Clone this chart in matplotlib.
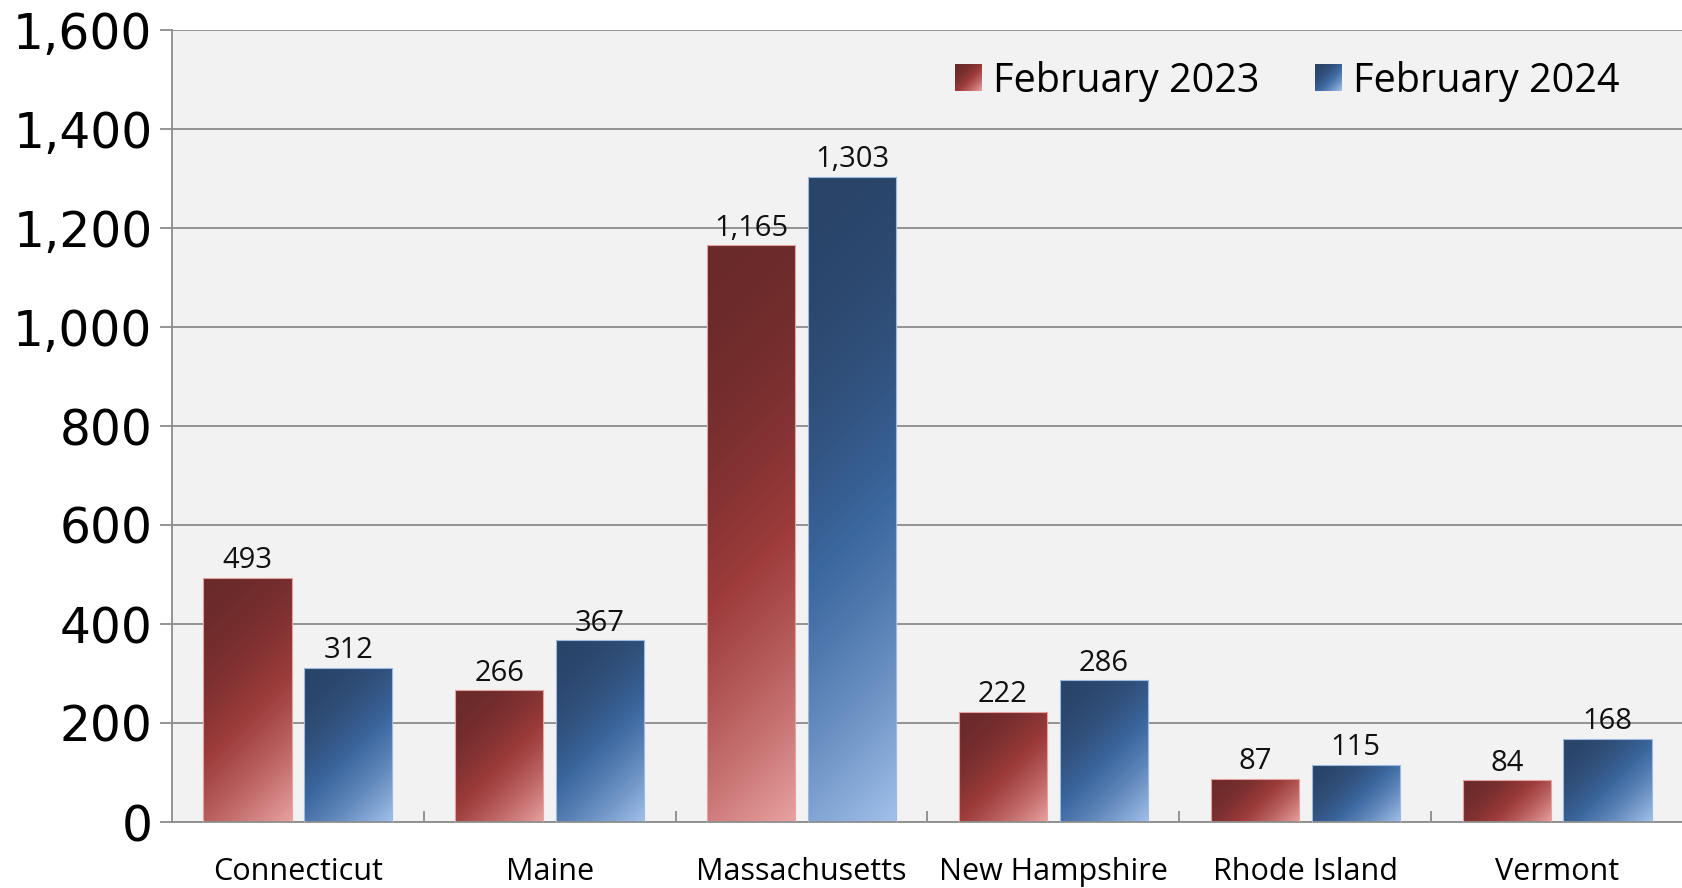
import numpy as np
import matplotlib
matplotlib.use('Agg')
import matplotlib.pyplot as plt
from matplotlib.patches import Patch
from matplotlib.colors import to_rgb
from matplotlib.legend_handler import HandlerBase
from matplotlib.image import BboxImage
from matplotlib.transforms import Bbox, TransformedBbox

# data
states = ['Connecticut', 'Maine', 'Massachusetts', 'New Hampshire', 'Rhode Island', 'Vermont']
feb_2023 = [493, 266, 1165, 222, 87, 84]
feb_2024 = [312, 367, 1303, 286, 115, 168]
series_names = ['February 2023', 'February 2024']
y_ticks = [0, 200, 400, 600, 800, 1000, 1200, 1400, 1600]

# gradient stops: dark top-left, mid, light bottom-right corner
red_stops = ['#6b2a2a', '#9e3b3b', '#e9a3a1']
blue_stops = ['#2a4468', '#3b679f', '#a3c2ec']

grid_col = '#8c8c8c'
text_font = ['Open Sans', 'DejaVu Sans']

fig = plt.figure(figsize=(16.83, 8.88), dpi=100)
fig.patch.set_facecolor('white')
ax = fig.add_axes([172 / 1683, 66 / 888, 1511 / 1683, 792 / 888])
ax.set_facecolor('#f2f2f2')

x = np.arange(len(states))
w = 0.35
off = 0.2
bars1 = ax.bar(x - off, feb_2023, w, facecolor='none', edgecolor='#e6a2a0', linewidth=0.8, zorder=3)
bars2 = ax.bar(x + off, feb_2024, w, facecolor='none', edgecolor='#9cbbe3', linewidth=0.8, zorder=3)

ax.set_xlim(-0.5, len(states) - 0.5)
ax.set_ylim(0, 1600)


def shade(stops, s, mid=0.3):
    c0, c1, c2 = [np.array(to_rgb(c)) for c in stops]
    s = np.clip(s, 0, 1)[..., None]
    lo = c0 + (c1 - c0) * np.clip(s / mid, 0, 1)
    hi = c1 + (c2 - c1) * np.clip((s - mid) / (1 - mid), 0, 1)
    return np.where(s < mid, lo, hi)


def grad_img(stops, W, H):
    # 45 degree gradient in pixel space, top-left -> bottom-right
    nx, ny = int(W) + 1, int(H) + 1
    xx, yy = np.meshgrid(np.linspace(0, W, nx), np.linspace(0, H, ny))
    diag = (xx + yy) / (W + H)
    return shade(stops, diag ** 2)


def fill_gradient(bars, stops):
    for b in bars:
        x0, y0 = b.get_x(), b.get_y()
        x1, y1 = x0 + b.get_width(), y0 + b.get_height()
        (px0, py0), (px1, py1) = ax.transData.transform([(x0, y0), (x1, y1)])
        img = grad_img(stops, max(px1 - px0, 1), max(py1 - py0, 1))
        im = ax.imshow(img, extent=(x0, x1, y0, y1), origin='upper',
                       aspect='auto', interpolation='bilinear', zorder=2)
        im.set_clip_path(b)


fill_gradient(bars1, red_stops)
fill_gradient(bars2, blue_stops)
ax.set_xlim(-0.5, len(states) - 0.5)
ax.set_ylim(0, 1600)

# value labels
for bars in (bars1, bars2):
    ax.bar_label(bars, labels=[f'{v:,}' for v in bars.datavalues], padding=2,
                 fontsize=21, family=text_font, color='#111111')

# axes styling
ax.set_axisbelow(True)
ax.set_yticks(y_ticks)
ax.set_yticklabels([f'{t:,}' for t in y_ticks], fontsize=35, family='DejaVu Sans')
ax.yaxis.grid(True, color=grid_col, linewidth=1.3)
ax.tick_params(axis='y', direction='out', length=9, width=1.3, color=grid_col, pad=5)

ax.set_xticks(x)
ax.set_xticklabels(states, fontsize=22, family=text_font)
ax.tick_params(axis='x', which='major', length=0, pad=25)
ax.set_xticks(x[:-1] + 0.5, minor=True)
ax.tick_params(axis='x', which='minor', direction='in', length=8, width=1.3, color=grid_col)

for side in ('top', 'right'):
    ax.spines[side].set_visible(False)
for side in ('left', 'bottom'):
    ax.spines[side].set_color(grid_col)
    ax.spines[side].set_linewidth(1.3)


class GradHandler(HandlerBase):
    def __init__(self, stops):
        super().__init__()
        self.stops = stops

    def create_artists(self, legend, orig_handle, xdescent, ydescent, width, height, fontsize, trans):
        bb = TransformedBbox(Bbox.from_bounds(-xdescent, -ydescent, width, height), trans)
        im = BboxImage(bb, interpolation='bilinear')
        im.set_data(grad_img(self.stops, 30, 30))
        return [im]


handles = [Patch(facecolor='#9a3838'), Patch(facecolor='#3a6396')]
ax.legend(handles, series_names, loc='center right', bbox_to_anchor=(0.9577, 0.935),
          ncol=2, frameon=False, borderpad=0, borderaxespad=0,
          handlelength=0.66, handleheight=0.66, handletextpad=0.3, columnspacing=1.4,
          prop={'family': text_font, 'size': 28.5},
          handler_map={handles[0]: GradHandler(red_stops), handles[1]: GradHandler(blue_stops)})

fig.savefig('out.png', dpi=100)
